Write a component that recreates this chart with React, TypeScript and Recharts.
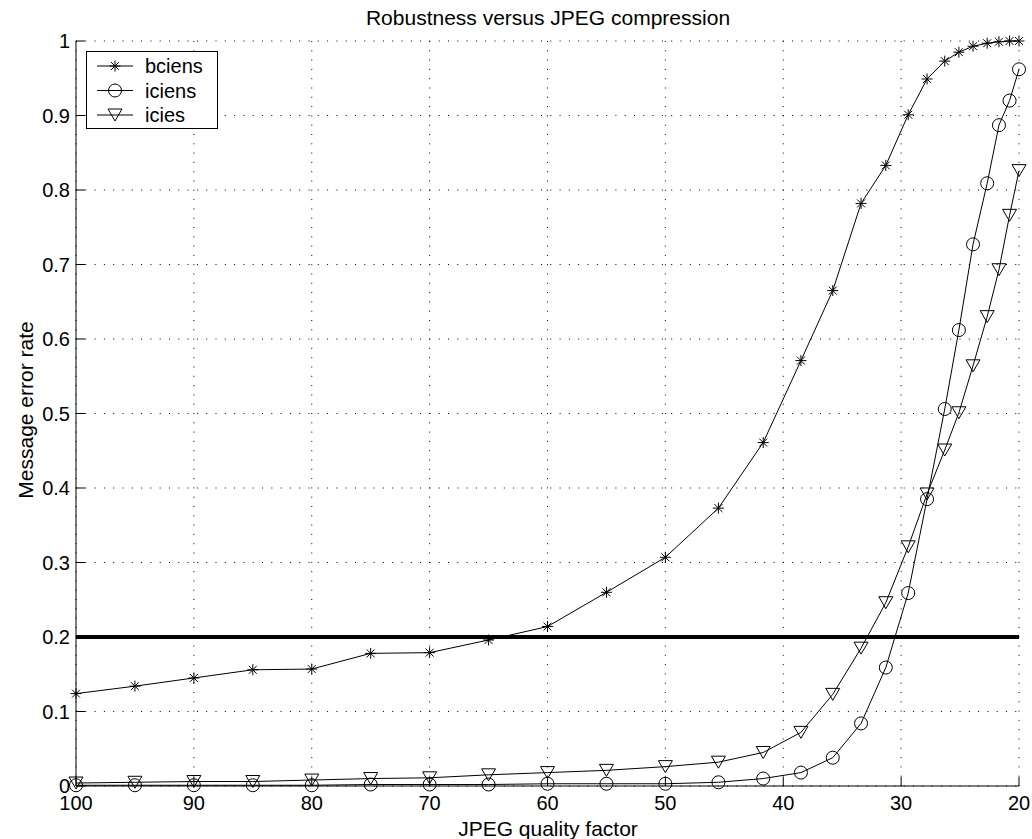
import React from "react";
import { CartesianGrid, Legend, Line, LineChart, ReferenceLine, XAxis, YAxis } from "recharts";

// JPEG quality factor at which each measurement was taken
const quality = [100, 95, 90, 85, 80, 75, 70, 65, 60, 55, 50, 45.5, 41.7, 38.5, 35.8, 33.4, 31.3, 29.4, 27.8, 26.3, 25.1, 23.9, 22.7, 21.7, 20.8, 20];

// message error rate per method
const bciens = [0.124, 0.134, 0.145, 0.156, 0.157, 0.178, 0.179, 0.196, 0.214, 0.26, 0.307, 0.373, 0.461, 0.571, 0.665, 0.782, 0.833, 0.901, 0.949, 0.973, 0.985, 0.993, 0.997, 0.999, 1.0, 1.0];
const iciens = [0.001, 0.001, 0.001, 0.001, 0.001, 0.002, 0.002, 0.002, 0.003, 0.003, 0.003, 0.005, 0.01, 0.018, 0.038, 0.084, 0.159, 0.259, 0.385, 0.506, 0.612, 0.727, 0.809, 0.887, 0.92, 0.962];
const icies = [0.004, 0.005, 0.006, 0.006, 0.008, 0.01, 0.011, 0.015, 0.018, 0.021, 0.026, 0.032, 0.045, 0.072, 0.123, 0.185, 0.246, 0.321, 0.392, 0.451, 0.501, 0.564, 0.63, 0.693, 0.766, 0.826];

const xTicks = [100, 90, 80, 70, 60, 50, 40, 30, 20];
const yTicks = [0, 0.1, 0.2, 0.3, 0.4, 0.5, 0.6, 0.7, 0.8, 0.9, 1];
const threshold = 0.2;

const rows = quality.map((q, i) => ({ q, bciens: bciens[i], iciens: iciens[i], icies: icies[i] }));

const FONT = '"Liberation Sans", Arial, Helvetica, sans-serif';

const Star = ({ cx, cy }: any) => {
  const r = 5.5;
  const d = r * 0.72;
  return (
    <path
      d={`M${cx - r},${cy}H${cx + r}M${cx},${cy - r}V${cy + r}M${cx - d},${cy - d}L${cx + d},${cy + d}M${cx - d},${cy + d}L${cx + d},${cy - d}`}
      stroke="#000"
      fill="none"
    />
  );
};

const Ring = ({ cx, cy }: any) => <circle cx={cx} cy={cy} r={6.5} stroke="#000" fill="none" />;

const Tri = ({ cx, cy }: any) => (
  <path d={`M${cx - 7},${cy - 6}L${cx + 7},${cy - 6}L${cx},${cy + 6}Z`} stroke="#000" fill="none" />
);

const legendItems = [
  { name: "bciens", Mark: Star },
  { name: "iciens", Mark: Ring },
  { name: "icies", Mark: Tri },
];

const renderLegend = () => (
  <svg width={132} height={78} style={{ display: "block" }}>
    <rect x={0.5} y={0.5} width={131} height={77} fill="#fff" stroke="#000" />
    {legendItems.map((it, i) => {
      const cy = 15 + i * 24.5;
      const Mark = it.Mark;
      return (
        <g key={it.name}>
          <line x1={11} x2={47} y1={cy} y2={cy} stroke="#000" />
          <Mark cx={29} cy={cy} />
          <text x={59} y={cy + 7} fontSize={20} fontFamily={FONT} fill="#000">
            {it.name}
          </text>
        </g>
      );
    })}
  </svg>
);

const XTick = ({ x, y, payload }: any) => (
  <g>
    <line x1={x} x2={x} y1={y} y2={y - 9} stroke="#000" />
    <text x={x} y={y + 24} textAnchor="middle" fontSize={20} fontFamily={FONT} fill="#000">
      {payload.value}
    </text>
  </g>
);

const YTick = ({ x, y, payload }: any) => (
  <g>
    <line x1={x} x2={x + 9} y1={y} y2={y} stroke="#000" />
    <text x={x - 6} y={y + 7} textAnchor="end" fontSize={20} fontFamily={FONT} fill="#000">
      {payload.value}
    </text>
  </g>
);

export default function App() {
  return (
    <div style={{ position: "absolute", left: 0, top: 0, background: "#fff" }}>
      <LineChart width={1032} height={839} data={rows} margin={{ top: 41, right: 13, bottom: 0, left: 0 }}>
        <CartesianGrid stroke="#000" strokeDasharray="1 8.3" />
        <XAxis
          dataKey="q"
          type="number"
          domain={[20, 100]}
          ticks={xTicks}
          reversed
          height={53}
          tickSize={0}
          tickMargin={0}
          tick={XTick}
          tickLine={false}
          axisLine={{ stroke: "#000" }}
          interval={0}
        />
        <YAxis
          type="number"
          domain={[0, 1]}
          ticks={yTicks}
          width={76}
          tickSize={0}
          tickMargin={0}
          tick={YTick}
          tickLine={false}
          axisLine={{ stroke: "#000" }}
          interval={0}
        />
        <ReferenceLine y={threshold} stroke="#000" strokeWidth={4} />
        <Line dataKey="bciens" stroke="#000" strokeWidth={1} dot={(p: any) => <Star key={p.index} cx={p.cx} cy={p.cy} />} activeDot={false} isAnimationActive={false} />
        <Line dataKey="iciens" stroke="#000" strokeWidth={1} dot={(p: any) => <Ring key={p.index} cx={p.cx} cy={p.cy} />} activeDot={false} isAnimationActive={false} />
        <Line dataKey="icies" stroke="#000" strokeWidth={1} dot={(p: any) => <Tri key={p.index} cx={p.cx} cy={p.cy} />} activeDot={false} isAnimationActive={false} />
        <Legend
          layout="horizontal"
          verticalAlign="middle"
          align="center"
          content={renderLegend}
          wrapperStyle={{ position: "absolute", left: 86, top: 51, width: 132, height: 78 }}
        />
        <text x={548} y={25} textAnchor="middle" fontSize={21} fontFamily={FONT} fill="#000">
          Robustness versus JPEG compression
        </text>
        <text x={548} y={836} textAnchor="middle" fontSize={21} fontFamily={FONT} fill="#000">
          JPEG quality factor
        </text>
        <text transform="translate(33,410) rotate(-90)" textAnchor="middle" fontSize={21} fontFamily={FONT} fill="#000">
          Message error rate
        </text>
      </LineChart>
    </div>
  );
}
